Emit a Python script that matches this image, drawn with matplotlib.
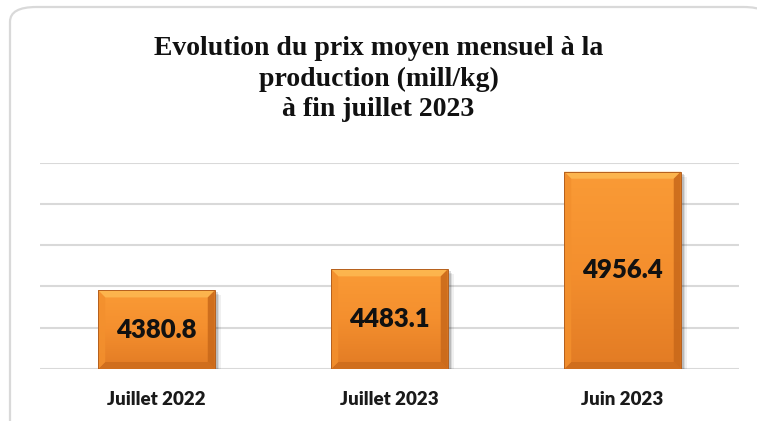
import numpy as np
import matplotlib
matplotlib.use("Agg")
import matplotlib.pyplot as plt
from matplotlib.patches import FancyBboxPatch, Polygon, Rectangle
from matplotlib.transforms import IdentityTransform

# data
categories = ['Juillet 2022', 'Juillet 2023', 'Juin 2023']
values = [4380.8, 4483.1, 4956.4]
value_labels = ['4380.8', '4483.1', '4956.4']
title = 'Evolution du prix moyen mensuel à la\nproduction (mill/kg)\nà fin juillet 2023'

W, H = 757, 421
fig = plt.figure(figsize=(W / 100, H / 100), dpi=100)

# rounded frame around the chart
frame = FancyBboxPatch((10 / W, -20 / H), 760 / W, 434 / H,
                       boxstyle='round,pad=0,rounding_size=0.035',
                       transform=fig.transFigure, facecolor='white',
                       edgecolor='#d9d9d9', linewidth=1.6, zorder=-5)
fig.patches.append(frame)

# plot area: x 40..739 px, y 162.7..369 px (from top)
ax = fig.add_axes([40 / W, (H - 369) / H, 699 / W, (369 - 162.7) / H])
ax.set_facecolor('none')
ax.set_ylim(4000, 5000)
ax.set_xlim(-0.5, 2.5)
ax.set_yticks(np.arange(4000, 5001, 200))
ax.yaxis.grid(True, color='#d9d9d9', linewidth=1.5)
ax.set_axisbelow(True)
for s in ax.spines.values():
    s.set_visible(False)
ax.tick_params(axis='y', left=False, labelleft=False)
ax.tick_params(axis='x', bottom=False, pad=12)
x = np.arange(len(categories))
ax.set_xticks(x)
ax.set_xticklabels(categories, fontfamily='Lato', fontweight='heavy',
                   fontsize=13.5, color='#1a1a1a')

bars = ax.bar(x, values, width=0.5, bottom=0, color='#F7952F', zorder=2)

# gradient + bevel look for each bar, drawn in pixel space from the bar geometry
grad = np.linspace(0, 1, 256).reshape(-1, 1)
cmap = matplotlib.colors.LinearSegmentedColormap.from_list(
    'bar', ['#E27B24', '#F48F2E', '#FA9B36'])
b = 7
for rect in bars:
    (x0, y0), (x1, y1) = ax.transData.transform(
        [(rect.get_x(), 4000), (rect.get_x() + rect.get_width(), rect.get_height())])
    # soft shadow
    for k, a in zip([5, 3.5, 2], [0.06, 0.09, 0.14]):
        sh = Rectangle((x0 + 1, y0 - k), (x1 - x0) + k, (y1 - y0), transform=IdentityTransform(),
                       facecolor='black', alpha=a, edgecolor='none', zorder=1.5)
        ax.add_artist(sh)
    im = ax.imshow(grad, cmap=cmap, aspect='auto', origin='lower',
                   extent=(rect.get_x(), rect.get_x() + rect.get_width(), 4000, rect.get_height()),
                   zorder=2.2)
    im.set_clip_path(rect)
    polys = [
        ([(x0, y1), (x1, y1), (x1 - b, y1 - b), (x0 + b, y1 - b)], '#FDBA52'),
        ([(x0, y0), (x1, y0), (x1 - b, y0 + b), (x0 + b, y0 + b)], '#CD6C1C'),
        ([(x0, y0), (x0, y1), (x0 + b, y1 - b), (x0 + b, y0 + b)], '#F3902E'),
        ([(x1, y0), (x1, y1), (x1 - b, y1 - b), (x1 - b, y0 + b)], '#C8681A'),
    ]
    for pts, c in polys:
        p = Polygon(pts, closed=True, transform=IdentityTransform(), facecolor=c,
                    edgecolor='none', alpha=0.85, zorder=2.4)
        ax.add_artist(p)
    edge = Rectangle((x0, y0), x1 - x0, y1 - y0, transform=IdentityTransform(),
                     facecolor='none', edgecolor='#B5601E', linewidth=0.7, zorder=2.5)
    ax.add_artist(edge)

ax.set_ylim(4000, 5000)
ax.set_xlim(-0.5, 2.5)

# value labels in the middle of each bar
for xi, v, lab in zip(x, values, value_labels):
    ax.text(xi, 4000 + (v - 4000) / 2, lab, ha='center', va='center', fontfamily='Lato',
            fontweight='heavy', fontsize=18.5, color='#111111', zorder=3)

fig.text(0.5, (H - 79) / H, title, ha='center', va='center',
         fontfamily='Liberation Serif', fontweight='bold', fontsize=20,
         linespacing=1.3, color='#111111')

fig.savefig('out.png', dpi=100)
